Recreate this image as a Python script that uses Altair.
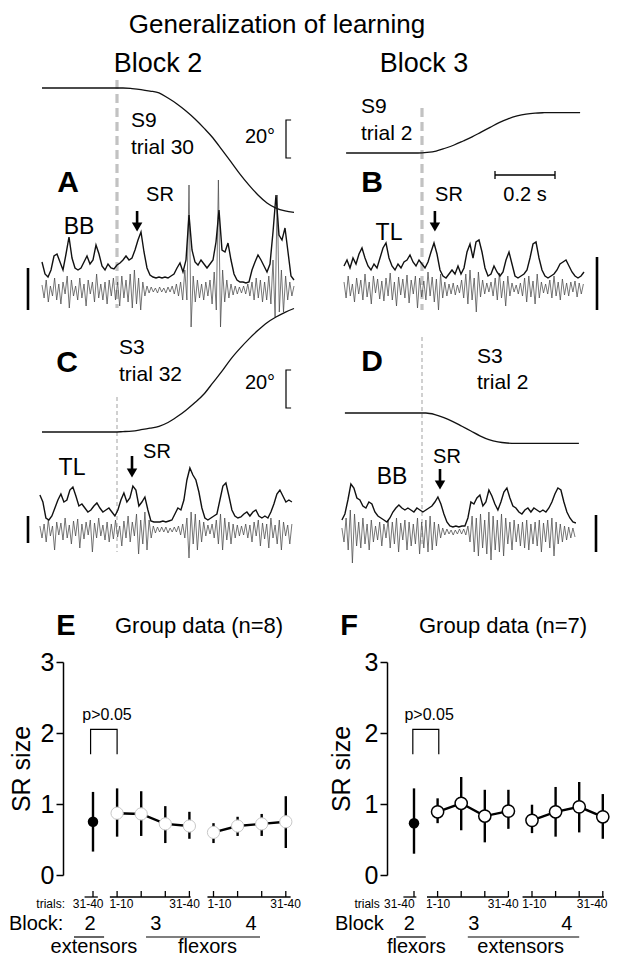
import altair as alt
import pandas as pd

FONT = "Liberation Sans"

# ---------------- joint angle traces (deg, relative to start), 30 ms samples ----------------
ANGLE_DT = 0.03
A_ANGLE_T0 = -0.25
A_ANGLE = [0, 0, 0, 0, 0, 0, 0, 0, 0, 0, -0.3, -0.8, -1.6, -2.6, -5.3, -8.4, -12.1, -16.3, -21.1,
           -26.3, -32.6, -38.9, -45.3, -51.1, -56.3, -60.5, -63.2, -64.7, -65.5]
B_ANGLE_T0 = -0.253
B_ANGLE = [0, 0, 0, 0, 0, 0, 0, 0, 0, 0.3, 1, 2.5, 4.2, 6.3, 8.5, 11, 13.5, 16, 18, 19.5, 20.5,
           21, 21.2, 21.3, 21.3, 21.3, 21.3]
C_ANGLE_T0 = -0.25
C_ANGLE = [0, 0, 0, 0, 0, 0, 0, 0, 0, 0.2, 0.5, 1.2, 2, 3, 5, 8, 11.5, 15.5, 20, 26, 32, 38.5,
           44, 49, 53.5, 57.5, 60.5, 63, 65]
D_ANGLE_T0 = -0.257
D_ANGLE = [0, 0, 0, 0, 0, 0, 0, 0, 0, 0, -0.8, -2.4, -4.5, -7, -9.5, -12, -14, -15.2, -15.8,
           -16, -16, -16, -16, -16, -16, -16, -16]

# ---------------- EMG: envelope (10 ms samples) and raw (7 ms samples), arbitrary units ----------------
ENV_DT, RAW_DT = 0.01, 0.007
A_EMG_T0 = -0.25
A_ENV = [28, 16, 13, 20, 34, 36, 28, 20, 36, 53, 32, 22, 20, 22, 28, 34, 26, 30, 45, 36,
         24, 20, 26, 22, 21, 25, 27, 30, 34, 30, 32, 40, 50, 58, 38, 22, 15, 13, 12, 13,
         12, 13, 12, 14, 16, 22, 27, 18, 30, 75, 40, 28, 25, 30, 26, 22, 26, 30, 48, 80,
         40, 38, 47, 30, 16, 10, 8, 8, 7, 8, 20, 28, 35, 30, 24, 18, 26, 58, 95, 55,
         50, 62, 38, 14, 10]
A_RAW = [5, -8, 10, -12, 4, -6, 12, -10, 6, -14, 8, -4, 14, -18, 10, -6, 4, -10, 12, -8,
         6, -16, 10, -4, 8, -12, 16, -8, 6, -10, 8, -14, 10, -6, 12, -10, 8, -16, 14, -8,
         10, -12, 16, -18, 20, -14, 12, -20, 8, -6, 4, -3, 3, -2, 2, -3, 3, -2, 2, -3,
         3, -2, 4, -4, 6, -6, 8, -10, 20, -10, 105, -37, 14, -12, 10, -8, 6, -10, 8, -6,
         10, -14, 18, -20, 110, -37, 20, -12, 10, -8, 6, -5, 4, -4, 3, -3, 4, -4, 6, -6,
         8, -10, 12, -8, 10, -12, 8, -10, 14, -14, 30, -27, 95, -22, 20, -22, 14, -10, 8, -6,
         4]
B_EMG_T0 = -0.26
B_ENV = [22, 28, 20, 30, 24, 34, 40, 30, 22, 18, 24, 20, 30, 40, 45, 30, 22, 18, 24, 20,
         26, 28, 33, 26, 22, 28, 24, 20, 26, 36, 45, 34, 18, 12, 10, 14, 18, 14, 22, 14,
         20, 36, 44, 30, 46, 48, 36, 20, 12, 14, 22, 16, 12, 16, 28, 36, 24, 12, 10, 12,
         14, 18, 30, 44, 46, 30, 18, 12, 10, 12, 14, 18, 24, 26, 28, 22, 16, 12, 10, 12,
         16]
B_RAW = [6, -10, 12, -8, 4, -14, 10, -6, 8, -12, 14, -9, 6, -16, 12, -5, 9, -11, 7, -13,
         10, -8, 15, -12, 6, -18, 11, -7, 9, -10, 13, -15, 8, -6, 12, -20, 10, -9, 7, -12,
         16, -8, 11, -14, 9, -22, 14, -10, 6, -8, 4, -6, 5, -7, 3, -5, 8, -10, 14, -16,
         18, -12, 10, -24, 16, -9, 8, -6, 5, -4, 6, -8, 10, -12, 15, -10, 7, -18, 12, -8,
         5, -4, 3, -6, 5, -8, 10, -14, 12, -9, 7, -16, 14, -10, 6, -5, 4, -6, 8, -10,
         12, -8, 6, -12, 9, -7, 5, -8, 6, -4, 7, -9, 5, -6, 4]
C_EMG_T0 = -0.257
C_ENV = [35, 28, 12, 10, 14, 22, 30, 36, 28, 30, 40, 43, 34, 24, 26, 22, 18, 20, 24, 27,
         22, 18, 20, 22, 18, 14, 20, 30, 37, 28, 32, 44, 40, 24, 28, 33, 20, 9, 8, 8,
         8, 9, 8, 9, 10, 16, 22, 20, 30, 50, 62, 55, 50, 38, 22, 12, 10, 12, 14, 16,
         30, 44, 47, 34, 20, 14, 12, 13, 16, 18, 14, 18, 20, 14, 12, 14, 12, 18, 26, 36,
         40, 34, 28, 30, 28]
C_RAW = [4, -8, 6, -12, 10, -6, 4, -20, 8, -5, 7, -10, 12, -8, 5, -14, 9, -6, 11, -18,
         6, -9, 8, -5, 10, -22, 7, -8, 12, -6, 5, -10, 8, -12, 6, -9, 10, -7, 4, -16,
         9, -8, 14, -12, 8, -6, 16, -24, 10, -14, 18, -20, 10, -8, 4, -3, 3, -2, 3, -2,
         3, -3, 2, -2, 3, -2, 4, -5, 6, -8, 12, -28, 18, -14, 16, -20, 10, -12, 8, -6,
         5, -4, 6, -8, 10, -14, 16, -20, 12, -10, 8, -14, 6, -8, 5, -6, 4, -5, 6, -8,
         5, -12, 8, -6, 10, -16, 7, -9, 6, -18, 12, -8, 5, -14, 10, -20, 8, -6, 5, -14,
         6]
D_EMG_T0 = -0.267
D_ENV = [12, 18, 32, 48, 44, 34, 32, 26, 24, 30, 28, 20, 16, 14, 12, 10, 14, 20, 24, 27,
         24, 22, 24, 22, 20, 24, 22, 20, 22, 24, 26, 30, 35, 28, 18, 10, 6, 5, 6, 5,
         6, 6, 14, 30, 28, 34, 37, 26, 30, 42, 36, 28, 22, 30, 40, 44, 34, 26, 24, 20,
         18, 22, 24, 20, 24, 22, 20, 22, 20, 24, 30, 38, 44, 42, 30, 20, 14, 10, 9]
D_RAW = [4, -10, 14, -18, 22, -31, 18, -14, 10, -16, 14, -12, 8, -18, 12, -10, 6, -8, 10, -14,
         8, -6, 12, -16, 10, -12, 14, -20, 9, -8, 12, -18, 10, -14, 8, -12, 14, -22, 10, -16,
         12, -20, 16, -18, 10, -14, 8, -6, 4, -3, 3, -2, 2, -3, 2, -2, 3, -2, 3, -3,
         6, -10, 16, -20, 14, -24, 18, -16, 12, -22, 20, -28, 16, -18, 12, -20, 18, -24, 14, -12,
         10, -18, 12, -10, 8, -14, 10, -16, 12, -18, 8, -12, 10, -14, 12, -20, 9, -10, 12, -16,
         14, -24, 10, -12, 8, -10, 6, -8, 5, -6, 4, -5]

# stretch-reflex (SR) latency marked by the arrows, s after onset
SR_T = {"A": 0.067, "B": 0.043, "C": 0.05, "D": 0.06}

# ---------------- group data (SR size, mean with range bars) ----------------
IDX = [0, 1, 2, 3, 4, 5, 6, 7, 8]
BLOCK = [2, 3, 3, 3, 3, 4, 4, 4, 4]
E_MEAN = [0.75, 0.87, 0.86, 0.72, 0.69, 0.60, 0.69, 0.72, 0.75]
E_LO = [0.33, 0.54, 0.55, 0.45, 0.51, 0.45, 0.55, 0.55, 0.38]
E_HI = [1.17, 1.22, 1.18, 0.97, 0.89, 0.73, 0.82, 0.86, 1.11]
F_MEAN = [0.73, 0.89, 1.01, 0.83, 0.90, 0.77, 0.89, 0.96, 0.82]
F_LO = [0.30, 0.73, 0.63, 0.46, 0.65, 0.59, 0.54, 0.60, 0.51]
F_HI = [1.22, 1.08, 1.38, 1.20, 1.20, 0.99, 1.24, 1.31, 1.14]
Y_TICKS = [0, 1, 2, 3]

# ---------------- helpers ----------------
ONE = pd.DataFrame({"k": [0]})
PPS = 300.0   # px per second  (0.2 s bar = 60 px)
PPD = 1.9     # px per degree  (20 deg bar = 38 px)


def trace_df(t0, dt, vals):
    return pd.DataFrame({"t": [round(t0 + i * dt, 4) for i in range(len(vals))], "v": vals})


def label(s, px, py, ox, oy, size, bold=False, align="center"):
    return alt.Chart(ONE).mark_text(
        font=FONT, fontSize=size, fontWeight="bold" if bold else "normal",
        align=align, baseline="middle", color="black"
    ).encode(x=alt.value(px - ox), y=alt.value(py - oy), text=alt.value(s))


def trace_layers(p, col):
    """Layers of one trace panel, drawn inside the column chart `col` (plot origin/size)."""
    ox, oy = col["origin"]
    w, h = col["size"]
    stim = p["stim"]
    xs = alt.Scale(domain=[(ox - stim) / PPS, (ox + w - stim) / PPS], nice=False, zero=False)
    X = alt.X("t:Q", scale=xs, axis=None)
    ya = p["angle_zero"] - oy
    ang_s = alt.Scale(domain=[(ya - h) / PPD, ya / PPD], nice=False, zero=False)
    yb = p["emg_zero"] - oy
    emg_s = alt.Scale(domain=[yb - h, yb], nice=False, zero=False)

    def t_at(px):
        return (px - stim) / PPS

    layers = []
    d_top, d_bot, thick = p["dash"]
    layers.append(alt.Chart(pd.DataFrame({"t": [0.0]})).mark_rule(
        color="#c2c2c2" if thick else "#aaaaaa", strokeWidth=3.2 if thick else 1.1,
        strokeDash=[9, 5] if thick else [4, 3]
    ).encode(x=X, y=alt.value(d_top - oy), y2=alt.value(d_bot - oy)))

    t0, vals = p["angle"]
    layers.append(alt.Chart(trace_df(t0, ANGLE_DT, vals)).mark_line(
        color="#111111", strokeWidth=1.3, interpolate="monotone"
    ).encode(x=X, y=alt.Y("v:Q", scale=ang_s, axis=None)))

    t0, vals = p["raw"]
    layers.append(alt.Chart(trace_df(t0, RAW_DT, vals)).mark_line(
        color="#4a4a4a", strokeWidth=0.75
    ).encode(x=X, y=alt.Y("v:Q", scale=emg_s, axis=None)))

    t0, vals = p["env"]
    layers.append(alt.Chart(trace_df(t0, ENV_DT, vals)).mark_line(
        color="#111111", strokeWidth=1.4
    ).encode(x=X, y=alt.Y("v:Q", scale=emg_s, axis=None)))

    bx, by1, by2 = p["emgbar"]
    layers.append(alt.Chart(pd.DataFrame({"t": [t_at(bx)], "a": [p["emg_zero"] - by1],
                                          "b": [p["emg_zero"] - by2]})).mark_rule(
        color="black", strokeWidth=2.6
    ).encode(x=X, y=alt.Y("a:Q", scale=emg_s, axis=None), y2="b:Q"))

    if p.get("degbar"):
        gx, gy = p["degbar"]
        d1 = (p["angle_zero"] - gy) / PPD
        tb = t_at(gx)
        layers.append(alt.Chart(pd.DataFrame({
            "t": [tb + 0.017, tb, tb, tb + 0.017], "d": [d1, d1, d1 - 20, d1 - 20], "o": [0, 1, 2, 3]
        })).mark_line(color="black", strokeWidth=1.2).encode(
            x=X, y=alt.Y("d:Q", scale=ang_s, axis=None), order="o:Q"))

    if p.get("timebar"):
        tx1, tx2, ty = p["timebar"]
        layers.append(alt.Chart(pd.DataFrame({"t": [t_at(tx1)], "t2": [t_at(tx2)]})).mark_rule(
            color="black", strokeWidth=1.3).encode(x=X, x2="t2:Q", y=alt.value(ty - oy)))
        layers.append(alt.Chart(pd.DataFrame({"t": [t_at(tx1), t_at(tx2)]})).mark_rule(
            color="black", strokeWidth=1.3).encode(x=X, y=alt.value(ty - oy - 4), y2=alt.value(ty - oy + 4)))

    a_top, a_tip = p["arrow"]
    tsr = pd.DataFrame({"t": [SR_T[p["name"]]]})
    layers.append(alt.Chart(tsr).mark_rule(color="black", strokeWidth=2.6).encode(
        x=X, y=alt.value(a_top - oy), y2=alt.value(a_tip - oy - 8)))
    layers.append(alt.Chart(tsr).mark_point(
        shape="triangle-down", filled=True, color="black", opacity=1, size=110
    ).encode(x=X, y=alt.value(a_tip - oy - 5)))

    for (s, px, py, size, bold, align) in p["labels"]:
        layers.append(label(s, px, py, ox, oy, size, bold, align))

    if p.get("top_anchor"):
        # invisible point that keeps a little room above the figure title
        layers.append(alt.Chart(ONE).mark_point(opacity=0, size=4).encode(
            x=alt.value(p["top_anchor"][0] - ox), y=alt.value(p["top_anchor"][1] - oy)))
    return layers


def group_layers(g, col):
    ox, oy = col["origin"]
    w, h = col["size"]
    x0, sp = g["x0"], g["spacing"]
    xs = alt.Scale(domain=[(ox - x0) / sp, (ox + w - x0) / sp], nice=False, zero=False)
    ys = alt.Scale(domain=[0, 3], nice=False, zero=False)
    yax = alt.Axis(values=Y_TICKS, grid=False, labelFont=FONT, labelFontSize=25, labelColor="black",
                   labelPadding=2, labelFlush=False, tickSize=7, tickWidth=1.5, tickColor="black",
                   domainWidth=1.5, domainColor="black", title="SR size", titleFont=FONT,
                   titleFontSize=25, titleFontWeight="normal", titleColor="black",
                   titlePadding=g["title_pad"])
    X = alt.X("i:Q", scale=xs, axis=None)

    def Y(field, axis=None):
        return alt.Y(field, scale=ys, axis=axis)

    df = pd.DataFrame({"i": IDX, "b": BLOCK, "m": g["mean"], "lo": g["lo"], "hi": g["hi"]})
    later = df[df.b > 2]
    first = df[df.b == 2]
    layers = [
        alt.Chart(df).mark_rule(color="black", strokeWidth=2.4).encode(
            x=X, y=Y("lo:Q", yax), y2="hi:Q"),
        alt.Chart(later).mark_line(color="black", strokeWidth=2.4).encode(
            x=X, y=Y("m:Q"), detail="b:N"),
        alt.Chart(first).mark_circle(color="black", opacity=1, size=110).encode(
            x=X, y=Y("m:Q")),
        alt.Chart(later).mark_point(shape="circle", filled=True, fill="white", stroke=g["open_stroke"],
                                    strokeWidth=g["open_sw"], opacity=1, size=150).encode(
            x=X, y=Y("m:Q")),
    ]
    bl, br = g["pbr"]
    layers.append(alt.Chart(pd.DataFrame({"i": [bl, bl, br, br], "m": [1.7, 2.05, 2.05, 1.7],
                                          "o": [0, 1, 2, 3]})).mark_line(
        color="black", strokeWidth=1.2).encode(x=X, y=Y("m:Q"), order="o:Q"))
    layers.append(alt.Chart(pd.DataFrame({"i": [g["ptext"]], "m": [2.25], "s": ["p>0.05"]})).mark_text(
        font=FONT, fontSize=16, color="black", baseline="middle").encode(
        x=X, y=Y("m:Q"), text="s:N"))

    # trial axis drawn below the plot as separate segments
    yl, yt = 235, 229
    segs = pd.DataFrame({"i": [s[0] for s in g["segs"]], "i2": [s[1] for s in g["segs"]]})
    layers.append(alt.Chart(segs).mark_rule(color="black", strokeWidth=1.3).encode(
        x=X, x2="i2:Q", y=alt.value(yl)))
    layers.append(alt.Chart(pd.DataFrame({"i": IDX})).mark_rule(color="black", strokeWidth=1.3).encode(
        x=X, y=alt.value(yt), y2=alt.value(yl)))

    def txt(rows, size, yv, align="center"):
        d = pd.DataFrame({"i": [r[0] for r in rows], "s": [r[1] for r in rows]})
        return alt.Chart(d).mark_text(font=FONT, fontSize=size, color="black", align=align,
                                      baseline="middle").encode(x=X, y=alt.value(yv), text="s:N")

    layers.append(txt([g["trials_word"][::-1]], 12, 242, "right"))
    layers.append(txt(g["trial_labels"], 12, 242))
    if g.get("last_right"):
        layers.append(txt([g["last_right"]], 12, 242, "right"))
    layers.append(txt([g["block_word"][::-1]], 20, 262, "left"))
    layers.append(txt(g["block_nums"], 20, 262))
    un = pd.DataFrame({"i": [u[0] for u in g["unders"]], "i2": [u[1] for u in g["unders"]]})
    layers.append(alt.Chart(un).mark_rule(color="black", strokeWidth=1.2).encode(
        x=X, x2="i2:Q", y=alt.value(275)))
    layers.append(txt(g["groups"], 20, 285))

    lt, lx = g["letter"]
    layers.append(label(lt, lx, 626, ox, oy, 29, True, "center"))
    ht, hx = g["heading"]
    layers.append(label(ht, hx, 626, ox, oy, 22, False, "left"))
    return layers


A = dict(name="A", stim=120, angle_zero=88, emg_zero=290,
         angle=(A_ANGLE_T0, A_ANGLE), env=(A_EMG_T0, A_ENV), raw=(A_EMG_T0, A_RAW),
         dash=(80, 308, True), emgbar=(31, 268, 310), degbar=(289, 120), arrow=(211, 232),
         top_anchor=(280, 9),
         labels=[("Generalization of learning", 280, 25, 26, False, "center"),
                 ("Block 2", 161, 64, 27, False, "center"),
                 ("S9", 134, 121, 21, False, "left"),
                 ("trial 30", 134, 148, 21, False, "left"),
                 ("20°", 263, 137, 20, False, "center"),
                 ("A", 71, 183, 30, True, "center"),
                 ("SR", 163, 195, 20, False, "center"),
                 ("BB", 82, 227, 23, False, "center")])
B = dict(name="B", stim=425, angle_zero=153, emg_zero=288,
         angle=(B_ANGLE_T0, B_ANGLE), env=(B_EMG_T0, B_ENV), raw=(B_EMG_T0, B_RAW),
         dash=(108, 310, True), emgbar=(600, 257, 310), timebar=(498, 558, 175), arrow=(211, 232),
         labels=[("Block 3", 427, 64, 27, False, "center"),
                 ("S9", 364, 107, 21, False, "left"),
                 ("trial 2", 364, 134, 21, False, "left"),
                 ("B", 375, 183, 30, True, "center"),
                 ("SR", 452, 195, 20, False, "center"),
                 ("0.2 s", 528, 195, 20, False, "center"),
                 ("TL", 392, 233, 23, False, "center")])
C = dict(name="C", stim=120, angle_zero=432, emg_zero=530,
         angle=(C_ANGLE_T0, C_ANGLE), env=(C_EMG_T0, C_ENV), raw=(C_EMG_T0, C_RAW),
         dash=(397, 552, False), emgbar=(31, 516, 543), degbar=(289, 370), arrow=(456, 478),
         labels=[("C", 70, 363, 30, True, "center"),
                 ("S3", 122, 348, 21, False, "left"),
                 ("trial 32", 122, 375, 21, False, "left"),
                 ("20°", 263, 383, 20, False, "center"),
                 ("TL", 75, 468, 23, False, "center"),
                 ("SR", 160, 452, 20, False, "center")])
D = dict(name="D", stim=425, angle_zero=413, emg_zero=532,
         angle=(D_ANGLE_T0, D_ANGLE), env=(D_EMG_T0, D_ENV), raw=(D_EMG_T0, D_RAW),
         dash=(337, 547, False), emgbar=(599, 515, 552), arrow=(469, 490),
         labels=[("D", 375, 362, 30, True, "center"),
                 ("S3", 480, 357, 21, False, "left"),
                 ("trial 2", 480, 383, 21, False, "left"),
                 ("BB", 395, 477, 23, False, "center"),
                 ("SR", 450, 457, 20, False, "center")])

E = dict(x0=96, spacing=24.1, mean=E_MEAN, lo=E_LO, hi=E_HI,
         open_stroke="#c8c8c8", open_sw=1.0, title_pad=6, letter=("E", 69),
         heading=("Group data (n=8)", 118), segs=[(-0.35, 0.2), (0.7, 4.05), (4.75, 8.2)],
         trials_word=("trials:", -1.16),
         trial_labels=[(-0.2, "31-40"), (1.18, "1-10"), (3.8, "31-40"), (5.25, "1-10"), (7.99, "31-40")],
         block_word=("Block:", -3.49), block_nums=[(-0.12, "2"), (2.61, "3"), (6.56, "4")],
         unders=[(-0.79, 0.46), (2.2, 6.93)], groups=[(0.04, "extensors"), (4.75, "flexors")],
         pbr=(-0.1, 1.0), ptext=0.58)
F = dict(x0=417, spacing=23.6, mean=F_MEAN, lo=F_LO, hi=F_HI,
         open_stroke="black", open_sw=1.5, title_pad=10, letter=("F", 352),
         heading=("Group data (n=7)", 422), segs=[(-0.45, 0.1), (0.55, 4.0), (4.6, 8.05)],
         trials_word=("trials", -1.45),
         trial_labels=[(-0.62, "31-40"), (1.02, "1-10"), (3.78, "31-40"), (5.1, "1-10")],
         last_right=(8.2, "31-40"),
         block_word=("Block", -3.35), block_nums=[(-0.2, "2"), (2.53, "3"), (6.47, "4")],
         unders=[(-0.75, 0.5), (2.28, 7.0)], groups=[(0.1, "flexors"), (4.52, "extensors")],
         pbr=(-0.05, 1.05), ptext=0.64)

# each column is one layered chart whose plot area is the group-data panel (E or F);
# the trace panels above are drawn through their own scales in the same column.
LEFT = dict(origin=(66, 662), size=(240, 213))
RIGHT = dict(origin=(390, 662), size=(224, 213))

left = alt.layer(*trace_layers(A, LEFT), *trace_layers(C, LEFT), *group_layers(E, LEFT)).resolve_scale(
    x="independent", y="independent").properties(width=LEFT["size"][0], height=LEFT["size"][1])
right = alt.layer(*trace_layers(B, RIGHT), *trace_layers(D, RIGHT), *group_layers(F, RIGHT)).resolve_scale(
    x="independent", y="independent").properties(width=RIGHT["size"][0], height=RIGHT["size"][1])

chart = alt.hconcat(left, right, spacing=RIGHT["origin"][0] - LEFT["origin"][0] - LEFT["size"][0],
                    bounds="flush").properties(padding=0).configure(font=FONT).configure_view(stroke=None)

chart.save("out.html", embed_options={"renderer": "svg", "actions": False})
